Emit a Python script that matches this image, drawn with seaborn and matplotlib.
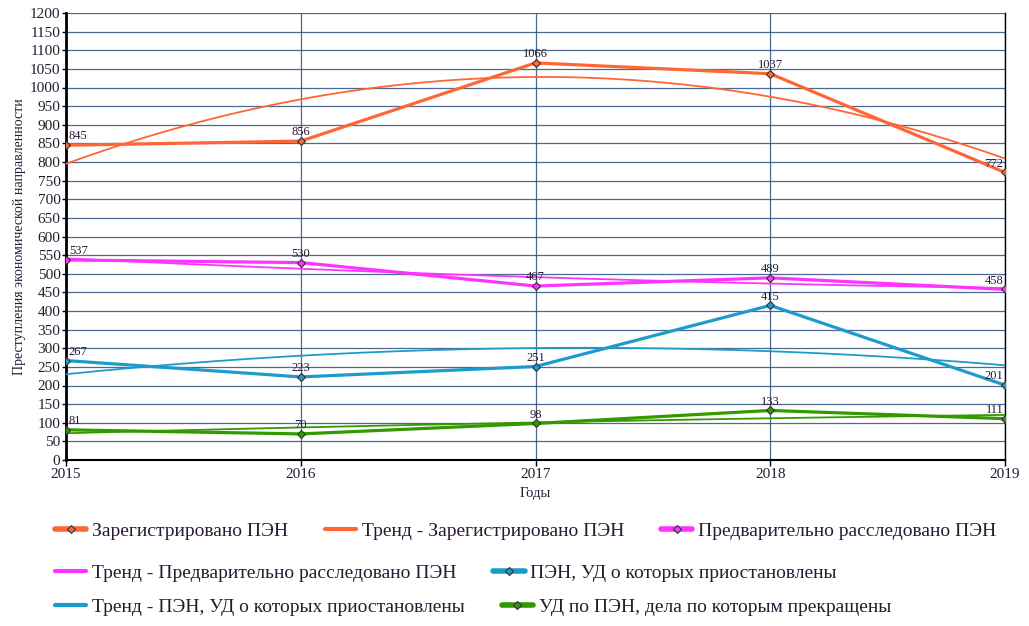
import matplotlib
matplotlib.use("Agg")
import matplotlib.pyplot as plt
from matplotlib.lines import Line2D
import seaborn as sns
import numpy as np
import pandas as pd

years = [2015, 2016, 2017, 2018, 2019]
registered = [845, 856, 1066, 1037, 772]
investigated = [537, 530, 467, 489, 458]
suspended = [267, 223, 251, 415, 201]
terminated = [81, 70, 98, 133, 111]

names = ["Зарегистрировано ПЭН", "Предварительно расследовано ПЭН",
         "ПЭН, УД о которых приостановлены", "УД по ПЭН, дела по которым прекращены"]
trend_prefix = "Тренд - "
colors = ["#FF6633", "#FF33FF", "#1E9BCD", "#339900"]
series = [registered, investigated, suspended, terminated]

sns.set_theme(style="white")
plt.rcParams['font.family'] = ['Liberation Serif', 'DejaVu Serif']

fig = plt.figure(figsize=(10.29, 6.26), dpi=100)
ax = fig.add_axes([66/1029, 1 - 460/626, (1005-66)/1029, (460-13)/626])

txtc = "#2a1a33"
for vals, col in zip(series, colors):
    df = pd.DataFrame({"year": years, "val": vals})
    sns.regplot(data=df, x="year", y="val", order=2, ci=None, scatter=False,
                ax=ax, line_kws=dict(color=col, lw=1.3, zorder=3), truncate=True)
    sns.lineplot(data=df, x="year", y="val", ax=ax, color=col, lw=2.3,
                 marker="D", markersize=4, markerfacecolor=col,
                 markeredgecolor="#333333", markeredgewidth=0.8, zorder=4)
    for i, (x, v) in enumerate(zip(years, vals)):
        if i == 0:
            ha, dx = "left", 2
        elif i == len(years) - 1:
            ha, dx = "right", -1
        else:
            ha, dx = "center", 0
        ax.annotate(str(v), (x, v), xytext=(dx, 2), textcoords="offset points",
                    ha=ha, va="bottom", fontsize=9, color=txtc, zorder=5,
                    annotation_clip=False)

ax.set_xlim(2015, 2019)
ax.set_ylim(0, 1200)
ax.set_yticks(range(0, 1201, 50))
ax.set_xticks(years)
ax.set_xticklabels([str(y) for y in years])
ax.grid(True, axis="both", color="#2f4f7f", lw=0.9, alpha=0.85)
ax.set_axisbelow(True)
ax.spines["top"].set_visible(False)
ax.spines["left"].set_color("black")
ax.spines["left"].set_linewidth(2)
ax.spines["bottom"].set_color("black")
ax.spines["bottom"].set_linewidth(1.5)
ax.spines["right"].set_color("black")
ax.spines["right"].set_linewidth(1)
ax.tick_params(axis="y", labelsize=11, labelcolor=txtc, length=3, width=1,
               direction="out", left=True, pad=1, color="black")
ax.tick_params(axis="x", labelsize=11, labelcolor=txtc, length=4, width=1,
               direction="out", bottom=True, pad=2, color="black")
ax.set_xlabel("Годы", fontsize=10.5, color=txtc, labelpad=4)
ax.set_ylabel("Преступления экономической направленности", fontsize=10, color=txtc, labelpad=3)

# legend in flow layout: three rows
def data_handle(c):
    return Line2D([], [], color=c, lw=4, marker="D", markersize=4,
                  markerfacecolor=c, markeredgecolor="#333333", markeredgewidth=0.8)

def trend_handle(c):
    return Line2D([], [], color=c, lw=3)

rows = [
    [(data_handle(colors[0]), names[0]), (trend_handle(colors[0]), trend_prefix + names[0]),
     (data_handle(colors[1]), names[1])],
    [(trend_handle(colors[1]), trend_prefix + names[1]), (data_handle(colors[2]), names[2])],
    [(trend_handle(colors[2]), trend_prefix + names[2]), (data_handle(colors[3]), names[3])],
]
row_y = [531, 573, 607]
for items, yy in zip(rows, row_y):
    hs = [h for h, _ in items]
    ls = [l for _, l in items]
    fig.legend(hs, ls, loc="center left", bbox_to_anchor=(55/1029, 1 - yy/626),
               ncol=len(items), frameon=False, fontsize=14, handlelength=1.6,
               handletextpad=0.3, columnspacing=1.9, borderaxespad=0, borderpad=0,
               labelcolor=txtc)

fig.savefig("out.png", dpi=100)
